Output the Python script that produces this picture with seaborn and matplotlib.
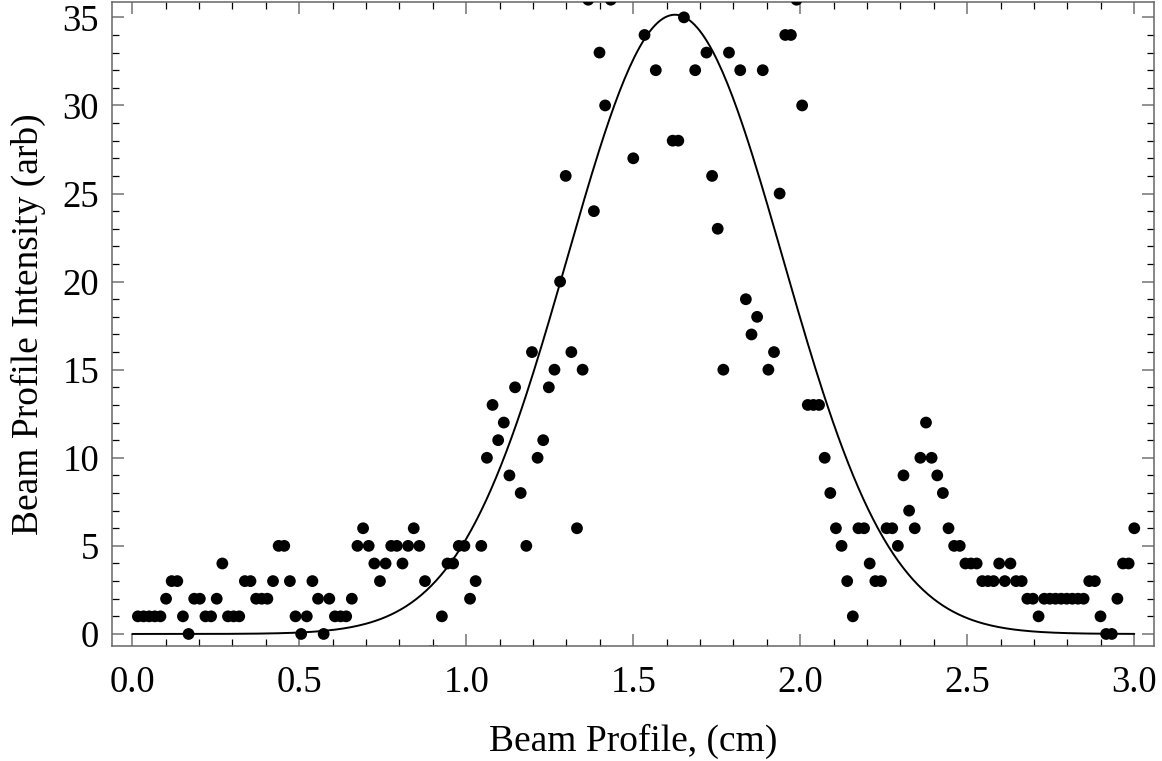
import numpy as np
import pandas as pd
import matplotlib
matplotlib.use('Agg')
import matplotlib.pyplot as plt
from matplotlib.ticker import MultipleLocator
import seaborn as sns

# measured beam profile, 178 samples evenly spaced up to 3.0 cm
n_muestras = 178
x_max = 3.0
intensidad = [
    1, 1, 1, 1, 1,
    2, 3, 3, 1, 0,
    2, 2, 1, 1, 2,
    4, 1, 1, 1, 3,
    3, 2, 2, 2, 3,
    5, 5, 3, 1, 0,
    1, 3, 2, 0, 2,
    1, 1, 1, 2, 5,
    6, 5, 4, 3, 4,
    5, 5, 4, 5, 6,
    5, 3, -1, -1, 1,
    4, 4, 5, 5, 2,
    3, 5, 10, 13, 11,
    12, 9, 14, 8, 5,
    16, 10, 11, 14, 15,
    20, 26, 16, 6, 15,
    36, 24, 33, 30, 36,
    38, 40, 39, 27, 37,
    34, 38, 32, 41, 39,
    28, 28, 35, 37, 32,
    40, 33, 26, 23, 15,
    33, 38, 32, 19, 17,
    18, 32, 15, 16, 25,
    34, 34, 36, 30, 13,
    13, 13, 10, 8, 6,
    5, 3, 1, 6, 6,
    4, 3, 3, 6, 6,
    5, 9, 7, 6, 10,
    12, 10, 9, 8, 6,
    5, 5, 4, 4, 4,
    3, 3, 3, 4, 3,
    4, 3, 3, 2, 2,
    1, 2, 2, 2, 2,
    2, 2, 2, 2, 3,
    3, 1, 0, 0, 2,
    4, 4, 6,
]

# gaussian fit parameters
amplitud = 35.15
centro = 1.625
sigma = 0.323

x_datos = np.linspace(x_max / n_muestras, x_max, n_muestras)
df = pd.DataFrame({'x': x_datos, 'y': intensidad})

x_fit = np.linspace(0, x_max, 400)
df_fit = pd.DataFrame({'x': x_fit,
                       'y': amplitud * np.exp(-(x_fit - centro) ** 2 / (2 * sigma ** 2))})

sns.set_theme(style='ticks')
plt.rcParams['font.family'] = ['Liberation Serif', 'DejaVu Serif']
plt.rcParams['text.color'] = 'black'
plt.rcParams['axes.labelcolor'] = 'black'

fig = plt.figure(figsize=(11.62, 7.61), dpi=100)
ax = fig.add_axes([0.0961, 0.1505, 0.8970, 0.8473])

sns.lineplot(data=df_fit, x='x', y='y', color='black', linewidth=1.4, ax=ax)
sns.scatterplot(data=df, x='x', y='y', color='black', s=72, edgecolor='none', ax=ax, zorder=3)

ax.set_xlim(-0.0617, 3.059)
ax.set_ylim(-0.71, 35.89)

ax.xaxis.set_major_locator(MultipleLocator(0.5))
ax.xaxis.set_minor_locator(MultipleLocator(0.1))
ax.yaxis.set_major_locator(MultipleLocator(5))
ax.yaxis.set_minor_locator(MultipleLocator(1))
ax.xaxis.set_major_formatter(matplotlib.ticker.FormatStrFormatter('%.1f'))

ax.tick_params(which='both', direction='in', top=True, right=True, labelsize=26.5,
               labelcolor='black')
ax.tick_params(axis='y', pad=9)
ax.tick_params(axis='x', pad=14)
ax.tick_params(which='major', length=8.6, width=1.3, color='#888888')
ax.tick_params(which='minor', length=5, width=0.9, color='black')

for sp in ax.spines.values():
    sp.set_color('#666666')
    sp.set_linewidth(1.1)

ax.set_xlabel('Beam Profile, (cm)', fontsize=27, labelpad=17, color='black')
ax.set_ylabel('Beam Profile Intensity (arb)', fontsize=27, labelpad=12, color='black')

fig.savefig('out.png', dpi=100)
